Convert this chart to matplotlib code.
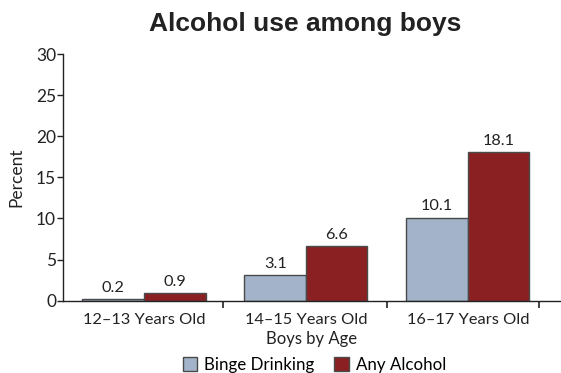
import matplotlib
matplotlib.use("Agg")
import matplotlib.pyplot as plt
from matplotlib.patches import Patch
import numpy as np

categories = ["12\u201313 Years Old", "14\u201315 Years Old", "16\u201317 Years Old"]
binge = [0.2, 3.1, 10.1]
any_alcohol = [0.9, 6.6, 18.1]
series_names = ["Binge Drinking", "Any Alcohol"]
yticks = [0, 5, 10, 15, 20, 25, 30]

c_binge = "#a2b3ca"
c_any = "#8a2022"
edge = "#4a4a4a"
txt = "#222222"
font = "Lato"

fig = plt.figure(figsize=(5.61, 3.73), dpi=100)
ax = fig.add_axes([0.1123, 0.194, 0.8877, 0.661])

x = np.arange(len(categories))
w = 0.38
b1 = ax.bar(x - w / 2, binge, w, color=c_binge, edgecolor=edge, linewidth=1.0)
b2 = ax.bar(x + w / 2, any_alcohol, w, color=c_any, edgecolor=edge, linewidth=1.0)

for bars, vals in ((b1, binge), (b2, any_alcohol)):
    for r, v in zip(bars, vals):
        ax.annotate(f"{v}", (r.get_x() + r.get_width() / 2, v), xytext=(0, 3),
                    textcoords="offset points", ha="center", va="bottom",
                    fontsize=11.7, color=txt, family=font)

ax.set_ylim(0, 30)
ax.set_xlim(-0.5, 2.575)
ax.set_yticks(yticks)
ax.set_yticklabels([str(t) for t in yticks], family=font, fontsize=12.5, color=txt)
ax.set_xticks(x)
ax.set_xticklabels(categories, family=font, fontsize=11.8, color=txt)
ax.tick_params(axis="x", which="major", length=0, pad=9)
ax.set_xticks([0.49, 1.5, 2.44], minor=True)
ax.tick_params(axis="x", which="minor", length=5, width=1.2, direction="out", color="#222")
ax.tick_params(axis="y", length=4, width=1.0, pad=1, color="#222")

for s in ("top", "right"):
    ax.spines[s].set_visible(False)
for s in ("left", "bottom"):
    ax.spines[s].set_color("#222")
    ax.spines[s].set_linewidth(1.0)

ax.set_ylabel("Percent", family=font, fontsize=12.5, color=txt, labelpad=8)
ax.set_xlabel("Boys by Age", family=font, fontsize=12, color=txt, labelpad=3)

fig.text(0.544, 0.936, "Alcohol use among boys", ha="center", va="center",
         fontsize=19, fontweight="bold", family="Liberation Sans", color=txt)

handles = [Patch(facecolor=c_binge, edgecolor=edge), Patch(facecolor=c_any, edgecolor=edge)]
fig.legend(handles, series_names, loc="center", bbox_to_anchor=(0.56, 0.022), ncol=2,
           frameon=False, prop={"family": font, "size": 12.2}, handlelength=0.85,
           handleheight=0.85, handletextpad=0.4, columnspacing=1.2, borderaxespad=0)

fig.savefig("out.png", dpi=100)
